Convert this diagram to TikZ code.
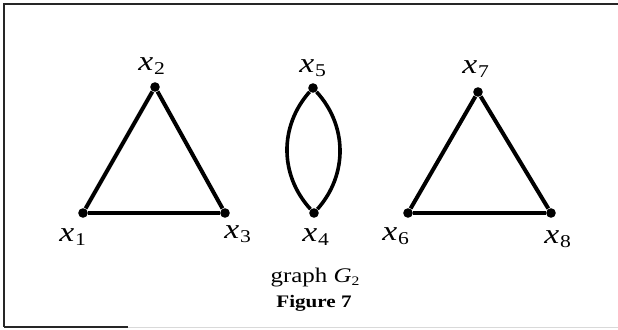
\documentclass[tikz,border=0pt]{standalone}
\usepackage{fontspec}
\setmainfont{Liberation Serif}
\usetikzlibrary{positioning}

% the scan prints text a bit wide
\newcommand{\wide}[1]{\scalebox{1.2}[1]{#1}}
% vertex label x_n
\newcommand{\xv}[1]{\wide{\textit{x}\kern0.3pt\raisebox{-2pt}{\fontsize{9}{10}\selectfont #1}}}

\tikzset{
  vtx/.style={circle, fill=black, inner sep=0pt, minimum size=4.8pt},
  edge/.style={line width=2pt, black},
  lab/.style={anchor=base west, inner sep=0pt, font=\fontsize{14}{16}\selectfont},
  frame/.style={line width=1.1pt, black!85}
}

\begin{document}
\begin{tikzpicture}[x=0.5pt, y=-0.5pt]
\useasboundingbox (0,0) rectangle (618,330);

% Frame (only partly printed)
\draw[frame] (4,327) -- (4,4) -- (618,4);
\draw[frame] (4,327) -- (128,327);
\draw[line width=0.8pt, black!15] (128,327.5) -- (618,327.5);

% Vertices
\foreach \n/\x/\y in {1/83/213, 2/155/87, 3/225/213, 4/314/213,
                      5/313/88, 6/408/213, 7/478/92, 8/551/213}
{
  \node[vtx] (x\n) at (\x,\y) {};
}

% Vertex labels
\foreach \n/\x/\y in {1/59/242, 2/138/71, 3/224/239, 4/302/242,
                      5/299/73, 6/382/241, 7/462/74, 8/544/244}
{
  \node[lab] (l\n) at (\x,\y) {\xv{\n}};
}

% Edges: two triangles and a double edge
\draw[edge] (x1) -- (x2) -- (x3);
\draw[edge, line width=1.6pt] (x1) -- (x3);
\draw[edge, line width=1.8pt] (x5) to[bend right=42] (x4);
\draw[edge, line width=1.8pt] (x5) to[bend left=42] (x4);
\draw[edge] (x6) -- (x7) -- (x8);
\draw[edge, line width=1.6pt] (x6) -- (x8);

% Caption
\node[anchor=base, inner sep=0pt, font=\fontsize{10.4}{12}\selectfont] (cap) at (315,283)
  {\wide{graph \textit{G}\raisebox{-1.5pt}{\fontsize{6.5}{7}\selectfont 2}}};
\node[anchor=base, inner sep=0pt, font=\fontsize{8.8}{11}\selectfont\bfseries] (fig) at (314,308)
  {\wide{Figure 7}};

\end{tikzpicture}
\end{document}
